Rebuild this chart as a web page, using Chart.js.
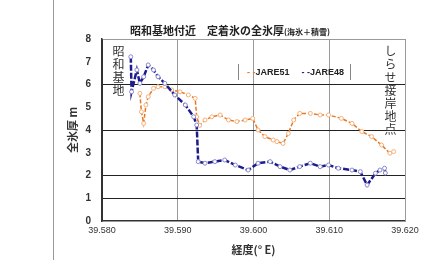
<!DOCTYPE html>
<html>
<head>
<meta charset="utf-8">
<script src="https://cdn.jsdelivr.net/npm/chart.js@4"></script>
<style>
  body { margin: 0; background: #fff; }
  #wrap { position: relative; width: 439px; height: 260px; font-family: "Noto Sans CJK JP", "DejaVu Sans", sans-serif; }
  #leftLine { position: absolute; left: 53px; top: 0; width: 1px; height: 260px; background: #999; }
  #title { position: absolute; left: 130px; top: 22px; font-size: 11px; font-weight: bold; color: #222; white-space: nowrap; }
  #title small { font-size: 8px; }
  .vert { position: absolute; writing-mode: vertical-rl; font-size: 12px; line-height: 12px; color: #333; letter-spacing: 1px; }
  #legend { position: absolute; left: 238px; top: 64px; width: 111px; height: 16px; border-left: 1px solid #888; border-right: 1px solid #888;
            font: bold 9px Arial, "Liberation Sans", sans-serif; color: #222; line-height: 16px; white-space: nowrap; }
  #legend span.m1 { color: #e87722; margin-left: 8px; }
  #legend span.m2 { color: #1c1c8c; margin-left: 12px; }
</style>
</head>
<body>
<div id="wrap">
  <canvas id="chart" width="439" height="260"></canvas>
  <div id="leftLine"></div>
  <div id="title">昭和基地付近　定着氷の全氷厚<small>(海氷＋積雪)</small></div>
  <div class="vert" style="left:112px; top:45px;">昭和基地</div>
  <div class="vert" style="left:384px; top:45px;">しらせ接岸地点</div>
  <div id="legend"><span class="m1">- -</span>JARE51<span class="m2">- -</span>JARE48</div>
</div>
<script>
// longitude (°E) and total ice thickness (m)
const lon51 = [39.5850, 39.5852, 39.5855, 39.5858, 39.5861, 39.5868, 39.5874, 39.5883, 39.5892, 39.5903,
  39.5914, 39.5923, 39.5925, 39.5929, 39.5936, 39.5945, 39.5956, 39.5967, 39.5978, 39.5989,
  39.5999, 39.6006, 39.6015, 39.6026, 39.6031, 39.6039, 39.6046, 39.6053, 39.6061, 39.6075,
  39.6088, 39.6099, 39.6116, 39.6130, 39.6143, 39.6156, 39.6169, 39.6180, 39.6185];
const ice51 = [5.61, 4.80, 4.29, 5.10, 5.46, 5.83, 5.90, 5.90, 5.76, 5.68,
  5.54, 5.39, 4.58, 4.20, 4.44, 4.58, 4.66, 4.44, 4.37, 4.44,
  4.51, 4.00, 3.71, 3.56, 3.49, 3.41, 3.85, 4.44, 4.73, 4.73,
  4.66, 4.66, 4.51, 4.29, 3.93, 3.71, 3.34, 2.98, 3.05];

const lon48 = [39.5838, 39.5839, 39.5846, 39.5850, 39.5855, 39.5861, 39.5868, 39.5874, 39.5883, 39.5896,
  39.5910, 39.5921, 39.5925, 39.5927, 39.5936, 39.5949, 39.5962, 39.5976, 39.5993, 39.6006,
  39.6022, 39.6035, 39.6048, 39.6061, 39.6075, 39.6088, 39.6099, 39.6112, 39.6130, 39.6141,
  39.6150, 39.6161, 39.6167, 39.6173, 39.6174];
const ice48 = [7.22, 5.68, 6.64, 6.05, 6.34, 6.86, 6.64, 6.34, 6.05, 5.54,
  5.10, 4.58, 4.22, 2.61, 2.54, 2.61, 2.68, 2.46, 2.24, 2.54,
  2.61, 2.39, 2.24, 2.39, 2.54, 2.39, 2.46, 2.32, 2.24, 2.17,
  1.58, 2.10, 2.24, 2.32, 2.11];

const xTicks = [39.58, 39.59, 39.60, 39.61, 39.62];
const yGridAt = [1, 2, 4, 6];

const toPoints = (xs, ys) => xs.map((x, i) => ({ x: x, y: ys[i] }));

new Chart(document.getElementById('chart'), {
  type: 'scatter',
  data: {
    datasets: [
      {
        label: 'JARE48',
        data: toPoints(lon48, ice48),
        showLine: true,
        borderColor: '#1c1c8c',
        borderWidth: 2.5,
        borderDash: [6, 2],
        pointRadius: 2,
        pointBackgroundColor: '#fff',
        pointBorderColor: '#8a8ad0',
        pointBorderWidth: 1
      },
      {
        label: 'JARE51',
        data: toPoints(lon51, ice51),
        showLine: true,
        borderColor: '#e87722',
        borderWidth: 1.5,
        borderDash: [4, 2],
        pointRadius: 2,
        pointBackgroundColor: '#fff',
        pointBorderColor: '#f4b07a',
        pointBorderWidth: 1
      }
    ]
  },
  options: {
    responsive: false,
    animation: false,
    layout: { padding: { left: 66, right: 34, top: 39, bottom: 0 } },
    plugins: {
      legend: { display: false },
      tooltip: { enabled: false }
    },
    scales: {
      x: {
        type: 'linear',
        min: 39.58,
        max: 39.62,
        afterBuildTicks: s => { s.ticks = xTicks.map(v => ({ value: v })); },
        afterFit: s => { s.height = 39; },
        ticks: {
          callback: v => v.toFixed(3),
          font: { size: 9, family: 'Arial' },
          color: '#333',
          padding: 4,
          maxRotation: 0
        },
        grid: {
          color: c => (c.tick && (c.tick.value === 39.58)) ? '#333' : '#999',
          drawTicks: false
        },
        border: { color: '#333', width: 1.5 },
        title: {
          display: true,
          text: '経度(° E)',
          font: { size: 11, weight: 'bold', family: 'Noto Sans CJK JP' },
          color: '#333',
          padding: { top: 0 }
        }
      },
      y: {
        min: 0,
        max: 8,
        afterFit: s => { s.width = 36; },
        ticks: {
          stepSize: 1,
          font: { size: 10, weight: 'bold', family: 'Arial' },
          color: '#333',
          padding: 11
        },
        grid: {
          color: c => {
            const v = c.tick ? c.tick.value : -1;
            if (yGridAt.includes(v)) return '#222';
            if (v === 8) return '#999';
            return 'rgba(0,0,0,0)';
          },
          drawTicks: false
        },
        border: { color: '#333', width: 1.5 },
        title: {
          display: true,
          text: '全氷厚 m',
          font: { size: 11, weight: 'bold', family: 'Noto Sans CJK JP' },
          color: '#333',
          padding: 0
        }
      }
    }
  },
  plugins: [{
    id: 'rightBorder',
    afterDraw(chart) {
      const { ctx, chartArea } = chart;
      ctx.save();
      ctx.strokeStyle = '#999';
      ctx.lineWidth = 1;
      ctx.beginPath();
      ctx.moveTo(chartArea.right + 0.5, chartArea.top);
      ctx.lineTo(chartArea.right + 0.5, chartArea.bottom);
      ctx.stroke();
      ctx.restore();
    }
  }]
});
</script>
</body>
</html>
